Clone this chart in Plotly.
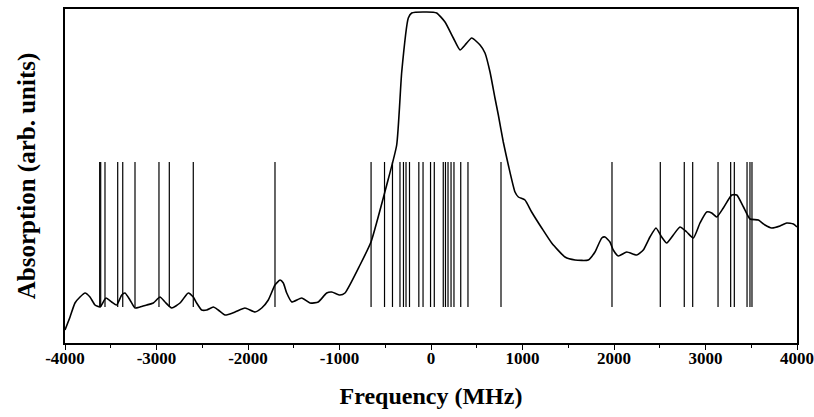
import plotly.graph_objects as go

# Absorption spectrum (frequency in MHz, absorption in arbitrary units)
freq = [-4000, -3945, -3891, -3836, -3781, -3727, -3672, -3617, -3552, -3490,
        -3435, -3380, -3344, -3290, -3235, -3180, -3107, -3035, -2962, -2907,
        -2834, -2743, -2653, -2598, -2561, -2506, -2451, -2379, -2325, -2251,
        -2142, -2033, -1923, -1850, -1778, -1705, -1650, -1614, -1577, -1522,
        -1413, -1322, -1232, -1140, -1085, -995, -940, -776, -656, -484,
        -375, -320, -248, -211, -47, 62, 153, 244, 317, 372,
        445, 536, 590, 645, 699, 736, 790, 845, 918, 955,
        1027, 1100, 1210, 1319, 1464, 1574, 1719, 1792, 1866, 1902,
        1956, 1992, 2047, 2139, 2248, 2320, 2393, 2459, 2521, 2576,
        2648, 2721, 2795, 2867, 2940, 3013, 3068, 3123, 3195, 3287,
        3342, 3415, 3486, 3577, 3650, 3723, 3814, 3888, 3960, 4000]
absorption = [13, 26, 40, 46, 50, 46, 38, 36, 45, 41,
              38, 48, 50, 43, 35, 36, 38, 40, 46, 41,
              35, 40, 50, 46, 40, 33, 33, 36, 33, 28,
              31, 35, 31, 35, 43, 58, 63, 60, 50, 41,
              45, 40, 41, 50, 51, 48, 50, 78, 101, 158,
              198, 271, 325, 330, 331, 330, 321, 305, 293, 298,
              305, 298, 290, 271, 245, 228, 201, 178, 151, 146,
              143, 131, 115, 100, 86, 83, 83, 91, 105, 106,
              101, 93, 87, 91, 88, 93, 106, 115, 106, 100,
              108, 116, 111, 105, 120, 131, 130, 126, 135, 148,
              148, 136, 124, 123, 118, 115, 117, 120, 119, 116]

# Calculated transition frequencies (stick spectrum)
sticks = [-3621, -3610, -3563, -3424, -3369, -3235, -2973, -2860, -2598, -1705,
          -655, -508, -421, -339, -301, -273, -235, -133, -87, -5,
          36, 134, 158, 186, 219, 251, 325, 404, 765,
          1978, 2506, 2768, 2860, 3137, 3275, 3315, 3454, 3486, 3508]
stick_low = 36
stick_high = 181

x_ticks = [-4000, -3000, -2000, -1000, 0, 1000, 2000, 3000, 4000]
x_labels = [str(v) for v in x_ticks]

sx, sy = [], []
for s in sticks:
    sx += [s, s, None]
    sy += [stick_low, stick_high, None]

fig = go.Figure()
fig.add_trace(go.Scatter(x=sx, y=sy, mode="lines",
                         line=dict(color="black", width=1.2),
                         hoverinfo="skip", showlegend=False))
fig.add_trace(go.Scatter(x=freq, y=absorption, mode="lines",
                         line=dict(color="black", width=1.6, shape="spline", smoothing=0.5),
                         showlegend=False))

fig.update_layout(
    width=814, height=417,
    margin=dict(l=65, r=17, t=9, b=74),
    paper_bgcolor="white", plot_bgcolor="white",
    font=dict(family="Liberation Serif", color="black"),
    xaxis=dict(
        range=[-4000, 4000],
        tickvals=x_ticks, ticktext=x_labels,
        ticks="outside", ticklen=5, tickwidth=1.2, tickcolor="black",
        minor=dict(dtick=500, tick0=-4000, ticks="outside", ticklen=3, tickwidth=1, tickcolor="black"),
        showline=True, linecolor="black", linewidth=1.5, mirror=True,
        showgrid=False, zeroline=False, automargin=False,
        tickfont=dict(family="Liberation Serif", size=17, color="black", weight="bold"),
        ticklabelstandoff=-6,
        title=dict(text="<b>Frequency (MHz)</b>", font=dict(family="Liberation Serif", size=24),
                   standoff=20),
    ),
    yaxis=dict(
        range=[0, 334],
        showticklabels=False, ticks="",
        showline=True, linecolor="black", linewidth=1.5, mirror=True,
        showgrid=False, zeroline=False, automargin=False,
        title=dict(text="<b>Absorption (arb. units)</b>", font=dict(family="Liberation Serif", size=25),
                   standoff=21),
    ),
)

fig.write_html("out.html", config={"displayModeBar": False},
               post_script="document.body.style.margin='0';")
